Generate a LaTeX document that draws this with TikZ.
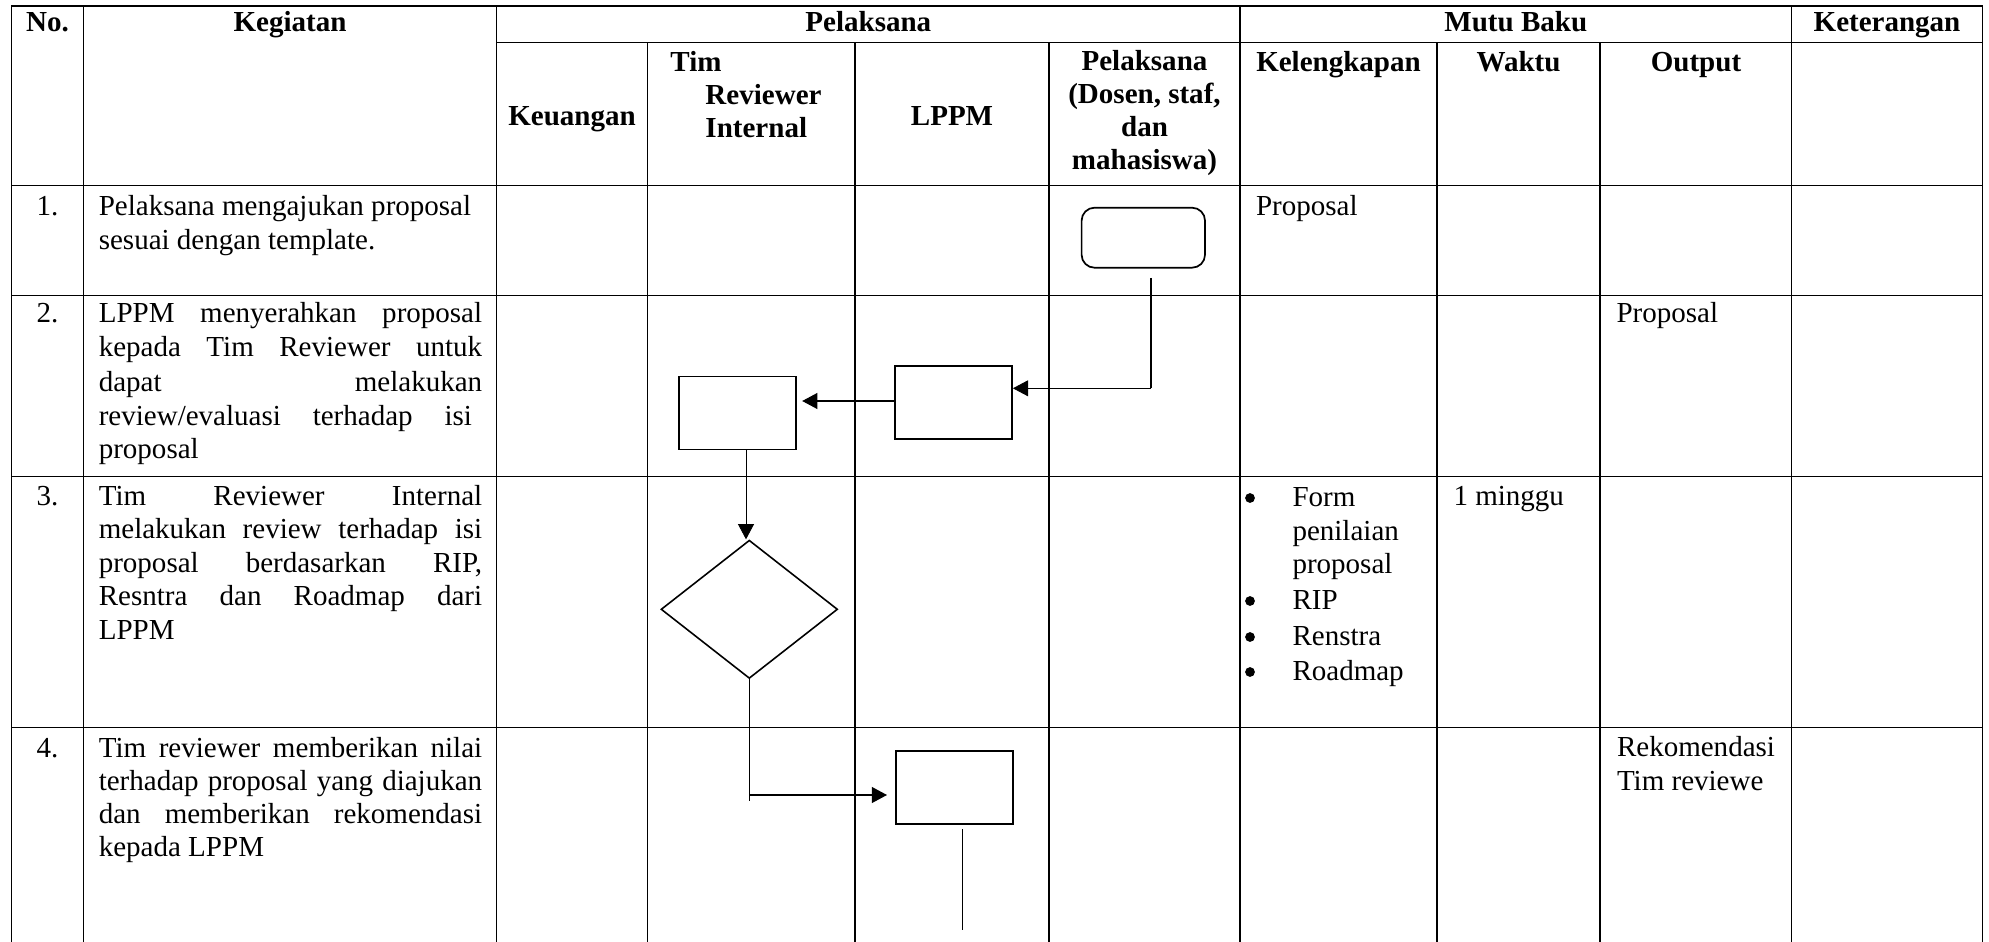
\documentclass[tikz,border=0pt]{standalone}
\usepackage{fontspec}
\setmainfont{Liberation Serif}
\usetikzlibrary{shapes.geometric,arrows.meta,calc}
\newcommand\jfull[1]{\makebox[157.2pt][s]{#1}}
\begin{document}
\begin{tikzpicture}[x=0.41pt,y=-0.41pt,
  font=\fontsize{11.9}{13.94}\selectfont,
  grid/.style={line width=0.55pt, line cap=rect},
  txt/.style={inner sep=0pt, anchor=base west},
  ctr/.style={inner sep=0pt, anchor=base},
  hd/.style={inner sep=0pt, anchor=base, font=\fontsize{11.9}{13.94}\selectfont\bfseries},
  hdl/.style={inner sep=0pt, anchor=base west, font=\fontsize{11.9}{13.94}\selectfont\bfseries},
  dotmark/.style={circle, fill=black, inner sep=0pt, minimum size=4pt},
  procbox/.style={draw, line width=0.7pt, inner sep=0pt, minimum width=48pt, minimum height=30pt},
  termbox/.style={draw, line width=0.7pt, inner sep=0pt, minimum width=50.6pt, minimum height=24.6pt, rounded corners=5.3pt},
  decbox/.style={draw, diamond, line width=0.65pt, inner sep=0pt, minimum width=72.4pt, minimum height=56.7pt},
  flow/.style={line width=0.55pt},
  thinflow/.style={line width=0.35pt},
  tip/.style={-{Triangle[length=6.2pt,width=6.5pt]}}
]
\useasboundingbox (0,0) rectangle (1989,942);

% ---------- table grid ----------
\foreach \x in {11.7,83.3,496.7,1240,1791.7,1982.7}
  \draw[grid] (\x,6) -- (\x,942);
\foreach \x in {647.3,855,1049,1437,1600}
  \draw[grid] (\x,42.7) -- (\x,942);
\draw[grid] (11.7,6) -- (1982.7,6);
\draw[grid] (496.7,42.7) -- (1982.7,42.7);
\foreach \y in {185.7,295.7,476.7,727.7}
  \draw[grid] (11.7,\y) -- (1982.7,\y);

% ---------- header ----------
\node[hd] (hNo) at (47.5,32) {No.};
\node[hd] (hKeg) at (290,32) {Kegiatan};
\node[hd] (hPel) at (868.3,32) {Pelaksana};
\node[hd] (hMutu) at (1515.8,32) {Mutu Baku};
\node[hd] (hKet) at (1887,32) {Keterangan};

\node[hd] (hKeu) at (572,125) {Keuangan};
\node[hdl] (hTim1) at (670,72) {Tim};
\node[hdl] (hTim2) at (705,105) {Reviewer};
\node[hdl] (hTim3) at (705,138) {Internal};
\node[hd] (hLppm) at (952,125) {LPPM};
\node[hd] (hPd1) at (1144.5,71) {Pelaksana};
\node[hd] (hPd2) at (1144.5,104) {(Dosen, staf,};
\node[hd] (hPd3) at (1144.5,137) {dan};
\node[hd] (hPd4) at (1144.5,170) {mahasiswa)};
\node[hd] (hKel) at (1338.5,72) {Kelengkapan};
\node[hd] (hWak) at (1518.5,72) {Waktu};
\node[hd] (hOut) at (1696,72) {Output};

% ---------- numbers ----------
\node[ctr] (n1) at (47.5,215) {1.};
\node[ctr] (n2) at (47.5,322.5) {2.};
\node[ctr] (n3) at (47.5,505) {3.};
\node[ctr] (n4) at (47.5,757) {4.};

% ---------- kegiatan ----------
\node[txt] (k1a) at (98.3,215) {Pelaksana mengajukan proposal};
\node[txt] (k1b) at (98.3,249) {sesuai dengan template.};

\node[txt] (k2a) at (98.3,322.5) {\jfull{LPPM menyerahkan proposal}};
\node[txt] (k2b) at (98.3,356.5) {\jfull{kepada Tim Reviewer untuk}};
\node[txt] (k2c) at (98.3,391) {\jfull{dapat melakukan}};
\node[txt] (k2d) at (98.3,425) {\makebox[153pt][s]{review/evaluasi terhadap isi}};
\node[txt] (k2e) at (98.3,458) {proposal};

\node[txt] (k3a) at (98.3,505) {\jfull{Tim Reviewer Internal}};
\node[txt] (k3b) at (98.3,538.5) {\jfull{melakukan review terhadap isi}};
\node[txt] (k3c) at (98.3,572) {\jfull{proposal berdasarkan RIP,}};
\node[txt] (k3d) at (98.3,605.5) {\jfull{Resntra dan Roadmap dari}};
\node[txt] (k3e) at (98.3,639) {LPPM};

\node[txt] (k4a) at (98.3,757) {\jfull{Tim reviewer memberikan nilai}};
\node[txt] (k4b) at (98.3,790) {\jfull{terhadap proposal yang diajukan}};
\node[txt] (k4c) at (98.3,823) {\jfull{dan memberikan rekomendasi}};
\node[txt] (k4d) at (98.3,856) {kepada LPPM};

% ---------- mutu baku ----------
\node[txt] (m1) at (1255.5,215) {Proposal};
\node[txt] (o2) at (1616,322.5) {Proposal};
\node[dotmark] (b1) at (1250,498) {};
\node[txt] (l1a) at (1292,506) {Form};
\node[txt] (l1b) at (1292,540) {penilaian};
\node[txt] (l1c) at (1292,573) {proposal};
\node[dotmark] (b2) at (1250,601) {};
\node[txt] (l2) at (1292,609) {RIP};
\node[dotmark] (b3) at (1250,637) {};
\node[txt] (l3) at (1292,645) {Renstra};
\node[dotmark] (b4) at (1250,672) {};
\node[txt] (l4) at (1292,680) {Roadmap};
\node[txt] (w3) at (1453,505) {1 minggu};
\node[txt] (o4a) at (1616.5,756) {Rekomendasi};
\node[txt] (o4b) at (1616.5,790) {Tim reviewe};

% ---------- flow shapes ----------
\node[termbox] (term) at (1143.3,237.7) {};
\node[procbox] (lppmA) at (953.5,402.5) {};
\node[procbox] (tim) at (737.5,413) {};
\node[decbox] (dia) at (749.3,609.3) {};
\node[procbox] (lppmB) at (954.7,787.4) {};

% ---------- connectors ----------
\coordinate (c1) at ($(term.south)+(7.7,9.3)$);
\coordinate (c2) at ($(lppmA.east)+(0,-14.2)$);
\draw[flow] (c1) -- (c1 |- c2);
\draw[thinflow,tip] (c1 |- c2) -- (c2);

\draw[flow,tip] ($(lppmA.west)+(0,-1.5)$) -- ($(tim.east)+(5.3,-12)$);

\coordinate (t1) at ($(tim.south)+(8.5,0)$);
\draw[thinflow,tip] (t1) -- (t1 |- dia.north);

\coordinate (d1) at ($(lppmB.west)+(-8.3,7.6)$);
\draw[flow] (dia.south) -- ++(0,121.7);
\draw[flow,tip] (dia.south |- d1) -- (d1);

\coordinate (e0) at ($(lppmB.south)+(7.6,4.3)$);
\coordinate (e1) at ($(e0)+(0,100.7)$);
\draw[thinflow] (e0) -- (e1);
\end{tikzpicture}
\end{document}
